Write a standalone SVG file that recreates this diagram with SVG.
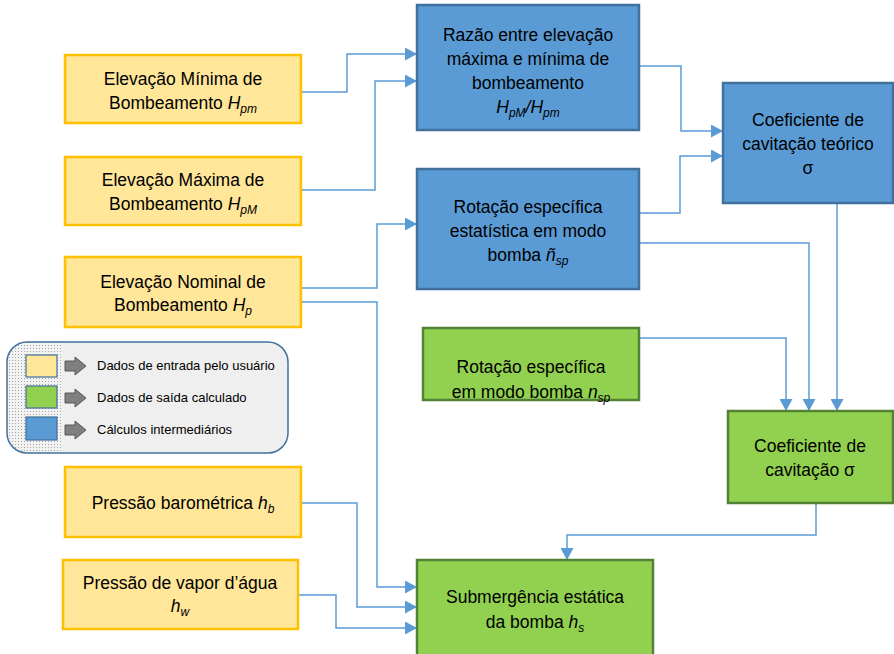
<svg xmlns="http://www.w3.org/2000/svg" width="894" height="654" viewBox="0 0 894 654">
<defs>
<style>
text{font-family:"Liberation Sans",Arial,sans-serif;font-size:17.5px;fill:#000;text-anchor:middle}
.lg{font-size:13px;text-anchor:start}
.it{font-style:italic}
.sb{font-style:italic;font-size:12px}
.y{fill:#ffe699;stroke:#ffc000;stroke-width:2.5}
.b{fill:#5b9bd5;stroke:#41719c;stroke-width:2.5}
.g{fill:#92d050;stroke:#538135;stroke-width:2.5}
.c{fill:none;stroke:#5b9bd5;stroke-width:1.5;marker-end:url(#ah)}
.la{fill:#7f7f7f;stroke:#595959;stroke-width:1}
</style>
<marker id="ah" markerUnits="userSpaceOnUse" markerWidth="13" markerHeight="13" refX="12" refY="6.5" orient="auto">
<path d="M0,0 L12,6.5 L0,13 Z" fill="#5b9bd5"/>
</marker>
<pattern id="dots" width="3" height="3" patternUnits="userSpaceOnUse">
<rect width="3" height="3" fill="#f2f2f2"/>
<rect width="1" height="1" fill="#a6a6a6"/>
</pattern>
<clipPath id="lgclip"><rect x="7" y="342" width="281" height="111" rx="20"/></clipPath>
</defs>

<g id="connectors">
<path class="c" d="M301,92 H347 V54 H417"/>
<path class="c" d="M301,190 H375 V81 H417"/>
<path class="c" d="M301,288 H377 V224 H417"/>
<path class="c" d="M301,302 H377 V587 H417"/>
<path class="c" d="M301,503 H357 V607 H417"/>
<path class="c" d="M298,595 H336 V628 H417"/>
<path class="c" d="M639,66 H681 V131 H723"/>
<path class="c" d="M639,213 H680 V156 H723"/>
<path class="c" d="M639,243 H809 V411"/>
<path class="c" d="M639,338 H786 V411"/>
<path class="c" d="M837,203 V411"/>
<path class="c" d="M816,503 V535 H567 V560"/>
</g>

<g id="legend">
<rect x="7" y="342" width="281" height="111" rx="20" fill="#efefef"/>
<rect x="7" y="342" width="55" height="111" fill="url(#dots)" clip-path="url(#lgclip)"/>
<rect x="7" y="342" width="281" height="111" rx="20" fill="none" stroke="#41719c" stroke-width="1.5"/>
<rect x="26" y="355" width="31" height="22" fill="#ffe699" stroke="#41719c" stroke-width="1.2"/>
<rect x="26" y="386" width="31" height="22" fill="#92d050" stroke="#41719c" stroke-width="1.2"/>
<rect x="26" y="417" width="31" height="23" fill="#5b9bd5" stroke="#41719c" stroke-width="1.2"/>
<path class="la" d="M65,361 H75 V357 L86,366 L75,375 V371 H65 Z"/>
<path class="la" d="M65,393 H75 V389 L86,398 L75,407 V403 H65 Z"/>
<path class="la" d="M65,425 H75 V421 L86,430 L75,439 V435 H65 Z"/>
<text class="lg" x="97" y="370">Dados de entrada pelo usuário</text>
<text class="lg" x="97" y="402">Dados de saída calculado</text>
<text class="lg" x="97" y="434">Cálculos intermediários</text>
</g>

<g id="n-hpm">
<rect class="y" x="65" y="55" width="236" height="68"/>
<text x="183" y="85">Elevação Mínima de</text>
<text x="183" y="109">Bombeamento <tspan class="it">H</tspan><tspan class="sb" dy="4">pm</tspan></text>
</g>
<g id="n-hpM">
<rect class="y" x="65" y="157" width="236" height="68"/>
<text x="183" y="186">Elevação Máxima de</text>
<text x="183" y="210">Bombeamento <tspan class="it">H</tspan><tspan class="sb" dy="4">pM</tspan></text>
</g>
<g id="n-hp">
<rect class="y" x="65" y="257" width="236" height="70"/>
<text x="183" y="288">Elevação Nominal de</text>
<text x="183" y="311">Bombeamento <tspan class="it">H</tspan><tspan class="sb" dy="4">p</tspan></text>
</g>
<g id="n-hb">
<rect class="y" x="65" y="467" width="236" height="70"/>
<text x="183" y="509">Pressão barométrica <tspan class="it">h</tspan><tspan class="sb" dy="4">b</tspan></text>
</g>
<g id="n-hw">
<rect class="y" x="63" y="560" width="235" height="69"/>
<text x="180" y="589">Pressão de vapor d’água</text>
<text x="180" y="612"><tspan class="it">h</tspan><tspan class="sb" dy="4">w</tspan></text>
</g>

<g id="n-razao">
<rect class="b" x="417" y="5" width="222" height="125"/>
<text x="528" y="41">Razão entre elevação</text>
<text x="528" y="65">máxima e mínima de</text>
<text x="528" y="89">bombeamento</text>
<text x="528" y="113"><tspan class="it">H</tspan><tspan class="sb" dy="4">pM</tspan><tspan class="it" dy="-4">/H</tspan><tspan class="sb" dy="4">pm</tspan></text>
</g>
<g id="n-nsp-est">
<rect class="b" x="417" y="169" width="222" height="120"/>
<text x="528" y="213">Rotação específica</text>
<text x="528" y="237">estatística em modo</text>
<text x="528" y="261">bomba <tspan class="it">ñ</tspan><tspan class="sb" dy="4">sp</tspan></text>
</g>
<g id="n-sigma-t">
<rect class="b" x="723" y="83" width="170" height="120"/>
<text x="808" y="126">Coeficiente de</text>
<text x="808" y="150">cavitação teórico</text>
<text x="808" y="174">σ</text>
</g>

<g id="n-nsp">
<rect class="g" x="423" y="328" width="216" height="72"/>
<text x="531" y="373">Rotação específica</text>
<text x="531" y="398">em modo bomba <tspan class="it">n</tspan><tspan class="sb" dy="4">sp</tspan></text>
</g>
<g id="n-sigma">
<rect class="g" x="728" y="411" width="165" height="92"/>
<text x="810" y="452">Coeficiente de</text>
<text x="810" y="476">cavitação σ</text>
</g>
<g id="n-hs">
<rect class="g" x="417" y="560" width="236" height="100"/>
<text x="535" y="603">Submergência estática</text>
<text x="535" y="628">da bomba <tspan class="it">h</tspan><tspan class="sb" dy="4">s</tspan></text>
</g>
</svg>
